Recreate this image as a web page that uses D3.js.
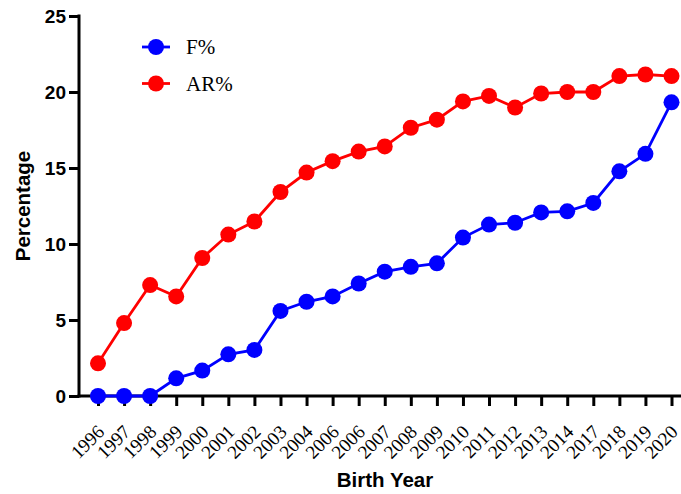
<!DOCTYPE html>
<html><head><meta charset="utf-8">
<script src="https://cdn.jsdelivr.net/npm/d3@7"></script>
<style>body{margin:0;background:#fff}svg{display:block}</style>
</head><body>
<script>
const years = ["1996","1997","1998","1999","2000","2001","2002","2003","2004","2006","2006","2007","2008","2009","2010","2011","2012","2013","2014","2017","2018","2019","2020"];
const fPct = [0,0,0,1.16,1.67,2.74,3.03,5.6,6.2,6.55,7.4,8.18,8.5,8.73,10.42,11.28,11.4,12.08,12.15,12.7,14.78,15.93,19.32];
const arPct = [2.15,4.8,7.3,6.55,9.08,10.62,11.48,13.42,14.7,15.45,16.08,16.42,17.65,18.18,19.38,19.74,18.98,19.9,20.0,20.0,21.05,21.15,21.05];
const yTicks = [0,5,10,15,20,25];
const seriesNames = ["F%","AR%"];
const colors = ["#0000FF","#FF0000"];

const W=681,H=494;
const svg=d3.select("body").append("svg").attr("width",W).attr("height",H);
const x0=79, x1=681, yTop=16, yBot=396;
const idx=d3.range(years.length);
const x=d3.scaleLinear().domain([0,years.length-1]).range([98,671.5]);
const y=d3.scaleLinear().domain([0,25]).range([yBot,yTop]);

// y axis
const ya=svg.append("g").attr("transform",`translate(${x0},0)`)
  .call(d3.axisLeft(y).tickValues(yTicks).tickSize(10).tickPadding(3).tickFormat(d3.format("d")));
ya.select(".domain").attr("stroke","#000").attr("stroke-width",3).attr("d",`M0,${yTop-1.5}V${yBot+1.5}`);
ya.selectAll(".tick line").attr("stroke","#000").attr("stroke-width",3);
ya.selectAll(".tick text").attr("font-family","Liberation Sans, Arial, sans-serif").attr("font-weight","bold").attr("font-size",19).attr("fill","#000").attr("dy","0.35em");

// x axis
const xa=svg.append("g").attr("transform",`translate(0,${yBot})`)
  .call(d3.axisBottom(x).tickValues(idx).tickSize(10).tickFormat(i=>years[i]));
xa.select(".domain").attr("stroke","#000").attr("stroke-width",3).attr("d",`M${x0-1.5},0H${x1}`);
xa.selectAll(".tick line").attr("stroke","#000").attr("stroke-width",3);
xa.selectAll(".tick text").attr("font-family","Liberation Serif, Times New Roman, serif").attr("font-size",19).attr("fill","#000")
  .attr("text-anchor","end").attr("dy",null).attr("y",null)
  .attr("transform","translate(7,37) rotate(-45)");

// series
const data=[fPct,arPct];
data.forEach((vals,k)=>{
  const line=d3.line().x((d,i)=>x(i)).y(d=>y(d));
  svg.append("path").datum(vals).attr("d",line).attr("fill","none").attr("stroke",colors[k]).attr("stroke-width",2.8);
  svg.append("g").selectAll("circle").data(vals).join("circle")
    .attr("cx",(d,i)=>x(i)).attr("cy",d=>y(d)).attr("r",8).attr("fill",colors[k]);
});

// legend
seriesNames.forEach((n,k)=>{
  const ly=47+k*36.5;
  const g=svg.append("g");
  g.append("line").attr("x1",142).attr("x2",170).attr("y1",ly).attr("y2",ly).attr("stroke",colors[k]).attr("stroke-width",2.8);
  g.append("circle").attr("cx",156).attr("cy",ly).attr("r",8).attr("fill",colors[k]);
  g.append("text").attr("x",186).attr("y",ly).attr("dy","0.35em").attr("font-family","Liberation Serif, Times New Roman, serif").attr("font-size",21).text(n);
});

// axis titles
svg.append("text").attr("x",385).attr("y",487).attr("text-anchor","middle").attr("font-family","Liberation Sans, Arial, sans-serif").attr("font-weight","bold").attr("font-size",20.5).text("Birth Year");
svg.append("text").attr("transform","translate(30,206) rotate(-90)").attr("text-anchor","middle").attr("font-family","Liberation Sans, Arial, sans-serif").attr("font-weight","bold").attr("font-size",20.5).text("Percentage");
</script>
</body></html>
